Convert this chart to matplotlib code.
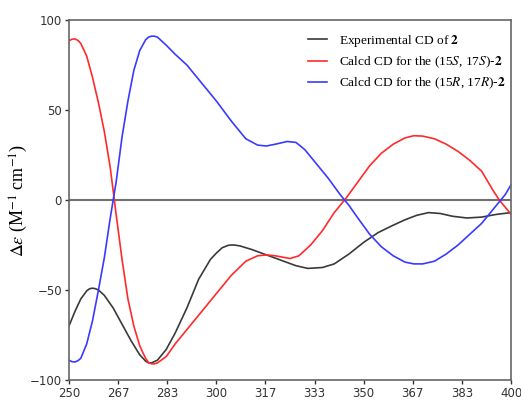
import numpy as np
import matplotlib
matplotlib.use("Agg")
import matplotlib.pyplot as plt

plt.rcParams['mathtext.fontset'] = 'stix'

# experimental CD
x_exp = [250, 252, 254, 256, 257, 258, 259, 260, 262, 265, 268, 271, 274, 276, 277, 278, 280, 283, 286,
         290, 294, 298, 300, 302, 304, 305, 306, 308, 312, 317, 322, 327, 331, 336, 340, 345, 350,
         355, 360, 364, 368, 372, 376, 380, 385, 390, 395, 400]
y_exp = [-70, -62, -55, -50.5, -49.3, -49, -49.3, -50, -53, -60, -69, -78, -86, -89.5, -90.5, -90.5, -89, -83, -74,
         -60, -44, -33, -29.5, -26.5, -25.2, -25, -25, -25.5, -27.5, -30.5, -33.5, -36.5, -38, -37.5, -35.5, -30, -23.5,
         -18, -14, -11, -8.5, -7, -7.5, -9, -10, -9.5, -8, -7]

# calcd (15S,17S)
x_ss = [250, 251, 252, 253, 254, 256, 258, 260, 262, 264, 265, 266, 268, 270, 272, 274, 276, 277, 278,
        279, 280, 283, 286, 290, 295, 300, 305, 310, 314, 317, 320, 325, 328, 332, 336, 340,
        344, 348, 352, 356, 360, 364, 367, 370, 374, 378, 382, 386, 390, 394, 396, 398, 400]
y_ss = [88.5, 89.3, 89.5, 88.7, 87, 80, 68, 54, 38, 18, 5, -8, -33, -55, -70, -81, -88, -90.3, -91,
        -91, -90.5, -87, -80, -72, -62, -52, -42, -34, -31, -30.5, -31, -32.5, -31, -25, -17, -7,
        1, 10, 19, 26, 31, 34.5, 35.7, 35.5, 34, 31, 27, 22, 16, 5, 0, -4, -8]

# calcd (15R,17R)
x_rr = [250, 251, 252, 253, 254, 256, 258, 260, 262, 264, 265, 266, 268, 270, 272, 274, 276, 277, 278,
        279, 280, 283, 286, 290, 295, 300, 305, 310, 314, 317, 320, 324, 327, 330, 334, 338,
        342, 345, 348, 352, 356, 360, 364, 367, 370, 374, 378, 382, 386, 390, 394, 396, 398, 400]
y_rr = [-89, -89.8, -90, -89.3, -88, -80, -67, -50, -32, -10, 0, 10, 35, 55, 72, 83, 89, 90.5, 91,
        91, 90.5, 86, 81, 75, 65, 55, 44, 34, 30.5, 30, 31, 32.5, 32, 28, 20, 12,
        3, -3, -10, -19, -26, -31, -34.5, -35.5, -35.5, -34, -30, -25, -19, -13, -5, -1, 3, 8.5]

xticks = np.linspace(250, 400, 10)
xticklabels = ['250', '267', '283', '300', '317', '333', '350', '367', '383', '400']
yticks = [-100, -50, 0, 50, 100]

fig = plt.figure(figsize=(5.21, 4), dpi=100)
ax = fig.add_axes([0.1324, 0.05, 0.8486, 0.90])

ax.axhline(0, color='#707070', linewidth=1.5, zorder=1)
ax.plot(x_exp, y_exp, color='#3a3a3a', linewidth=1.2, label=r'Experimental CD of $\mathbf{2}$')
ax.plot(x_ss, y_ss, color='#ff2a2a', linewidth=1.2, label=r'Calcd CD for the (15$S$, 17$S$)-$\mathbf{2}$')
ax.plot(x_rr, y_rr, color='#3a3aff', linewidth=1.2, label=r'Calcd CD for the (15$R$, 17$R$)-$\mathbf{2}$')

ax.set_xlim(250, 400)
ax.set_ylim(-100, 100)
ax.set_xticks(xticks)
ax.set_xticklabels(xticklabels)
ax.set_yticks(yticks)
ax.tick_params(direction='out', length=3, width=1, colors='#333333', labelsize=8.5, pad=2)
for s in ax.spines.values():
    s.set_color('#666666')
    s.set_linewidth(1.2)

ax.set_ylabel(r'$\Delta\varepsilon$ (M$^{-1}$ cm$^{-1}$)', family='Liberation Serif', fontsize=13)
ax.yaxis.set_label_coords(-0.088, 0.5)

leg = ax.legend(loc='upper right', bbox_to_anchor=(1.0, 0.98), frameon=False,
                prop={'family': 'Liberation Serif', 'size': 9.6},
                handlelength=1.4, handletextpad=0.9, labelspacing=0.45, borderaxespad=0.0)

fig.savefig('out.png', dpi=100)
